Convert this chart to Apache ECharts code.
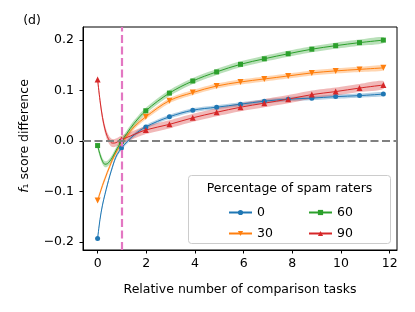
<!DOCTYPE html>
<html><head><meta charset="utf-8">
<script src="https://cdn.jsdelivr.net/npm/echarts@6/dist/echarts.min.js"></script>
<style>html,body{margin:0;padding:0;background:#fff}#c{width:415px;height:312px}</style>
</head><body><div id="c"></div>
<script>
// ---- data ----
const xs = [0, 0.1, 0.2, 0.3, 0.4, 0.5, 0.6, 0.7, 0.8, 0.98, 1.2, 1.5, 1.98, 2.95, 3.91, 4.89, 5.87, 6.85, 7.83, 8.8, 9.78, 10.76, 11.74];
const markerX = [0, 0.98, 1.98, 2.95, 3.91, 4.89, 5.87, 6.85, 7.83, 8.8, 9.78, 10.76, 11.74];
const seriesNames = ['0', '30', '60', '90'];
const f1_0  = [-0.193, -0.155, -0.127, -0.106, -0.087, -0.069, -0.053, -0.038, -0.027, -0.014, -0.002, 0.012, 0.028, 0.048, 0.061, 0.067, 0.073, 0.079, 0.083, 0.085, 0.088, 0.090, 0.093];
const f1_30 = [-0.118, -0.103, -0.088, -0.075, -0.062, -0.050, -0.038, -0.028, -0.019, -0.005, 0.010, 0.028, 0.048, 0.080, 0.096, 0.109, 0.117, 0.123, 0.129, 0.135, 0.139, 0.142, 0.145];
const f1_60 = [-0.009, -0.027, -0.040, -0.046, -0.045, -0.040, -0.033, -0.024, -0.015, -0.001, 0.015, 0.035, 0.060, 0.095, 0.119, 0.137, 0.152, 0.163, 0.173, 0.182, 0.189, 0.195, 0.200];
const f1_90 = [0.122, 0.080, 0.047, 0.024, 0.009, 0.000, -0.004, -0.004, -0.002, 0.003, 0.007, 0.013, 0.022, 0.033, 0.046, 0.057, 0.067, 0.075, 0.083, 0.092, 0.098, 0.105, 0.111];
const bandHalfWidth = [0.004, 0.005, 0.006, 0.008];
const xTicks = [0, 2, 4, 6, 8, 10, 12];
const yTicks = [-0.2, -0.1, 0.0, 0.1, 0.2];
const refX = [1];
const refY = [0];

// ---- styles ----
const colors = ['#1f77b4', '#ff7f0e', '#2ca02c', '#d62728'];
const symbols = ['circle', 'path://M0,0L10,0L5,9Z', 'rect', 'triangle'];
const symbolSizes = [5, 6, 5, 6];
const FONT = 'DejaVu Sans';
const allY = [f1_0, f1_30, f1_60, f1_90];

const series = [];
allY.forEach((ys, i) => {
  const w = bandHalfWidth[i];
  series.push({
    type: 'custom', name: 'band_' + i, silent: true, z: 1, clip: true,
    data: xs.map((x, j) => [x, ys[j]]),
    renderItem: (params, api) => {
      if (params.dataIndex !== 0) return null;
      const pts = [];
      for (let j = 0; j < xs.length; j++) pts.push(api.coord([xs[j], ys[j] + w]));
      for (let j = xs.length - 1; j >= 0; j--) pts.push(api.coord([xs[j], ys[j] - w]));
      return { type: 'polygon', shape: { points: pts, smooth: 0.25 },
        style: { fill: colors[i], opacity: 0.33 } };
    }
  });
});
series.push({
  type: 'line', name: 'ref', data: [], symbol: 'none', silent: true, z: 2,
  markLine: {
    silent: true, symbol: 'none', label: { show: false },
    data: [
      ...refX.map(v => ({ xAxis: v, lineStyle: { color: '#e377c2', width: 2.2, type: [8, 3.5] } })),
      ...refY.map(v => ({ yAxis: v, lineStyle: { color: '#808080', width: 2, type: [8, 3.5] } }))
    ]
  }
});
allY.forEach((ys, i) => {
  series.push({
    type: 'line', name: seriesNames[i], smooth: 0.35, z: 3,
    symbol: symbols[i], symbolSize: symbolSizes[i], showAllSymbol: true,
    itemStyle: { color: colors[i] }, lineStyle: { color: colors[i], width: 1 },
    data: xs.map((x, j) => markerX.includes(x) ? [x, ys[j]] : { value: [x, ys[j]], symbol: 'none' })
  });
});

const legendCommon = {
  orient: 'vertical', itemWidth: 23, itemHeight: 6.5, itemGap: 8, z: 5,
  textStyle: { fontFamily: FONT, fontSize: 12.5, color: '#000' }, selectedMode: false
};

const chart = echarts.init(document.getElementById('c'), null, { renderer: 'canvas' });
chart.setOption({
  animation: false,
  backgroundColor: '#fff',
  grid: { left: 83, right: 18, top: 27, bottom: 62, show: true, borderColor: '#000', borderWidth: 1, containLabel: false },
  xAxis: {
    type: 'value', min: -0.6, max: 12.3, splitLine: { show: false },
    axisLine: { onZero: false, lineStyle: { color: '#000', width: 1 } },
    axisTick: { customValues: xTicks, length: 3.5, lineStyle: { color: '#000', width: 1 } },
    axisLabel: { customValues: xTicks, margin: 7, fontFamily: FONT, fontSize: 12.5, color: '#000', formatter: v => String(v) },
    name: 'Relative number of comparison tasks', nameLocation: 'middle', nameGap: 33,
    nameTextStyle: { fontFamily: FONT, fontSize: 12.5, color: '#000' }
  },
  yAxis: {
    type: 'value', min: -0.216, max: 0.226, splitLine: { show: false },
    axisLine: { onZero: false, lineStyle: { color: '#000', width: 1 } },
    axisTick: { customValues: yTicks, length: 3.5, lineStyle: { color: '#000', width: 1 } },
    axisLabel: { customValues: yTicks, margin: 9, fontFamily: FONT, fontSize: 12.5, color: '#000',
      formatter: v => (v < -1e-9 ? '\u2212' : '') + Math.abs(v).toFixed(1) }
  },
  legend: [
    Object.assign({ data: [seriesNames[0], seriesNames[1]], left: 223, top: 201 }, legendCommon),
    Object.assign({ data: [seriesNames[2], seriesNames[3]], left: 303, top: 201 }, legendCommon)
  ],
  graphic: [
    { type: 'rect', z: 4, shape: { x: 188.5, y: 175.5, width: 202, height: 68, r: 3 },
      style: { fill: 'rgba(255,255,255,0.8)', stroke: '#cccccc', lineWidth: 1 } },
    { type: 'text', z: 5, x: 289.5, y: 189, style: { text: 'Percentage of spam raters', font: '12.5px "DejaVu Sans"', fill: '#000', textAlign: 'center', textVerticalAlign: 'middle' } },
    { type: 'text', z: 5, x: 32, y: 21, style: { text: '(d)', font: '12.5px "DejaVu Sans"', fill: '#000', textAlign: 'center', textVerticalAlign: 'middle' } },
    { type: 'text', z: 5, x: 25, y: 136, rotation: Math.PI / 2,
      style: { text: '{it|f}\u2081 score difference', font: '12.5px "DejaVu Sans"', fill: '#000', textAlign: 'center', textVerticalAlign: 'middle',
        rich: { it: { fontStyle: 'italic', fontFamily: FONT, fontSize: 12.5 } } } }
  ],
  series: series
});
</script>
</body></html>
